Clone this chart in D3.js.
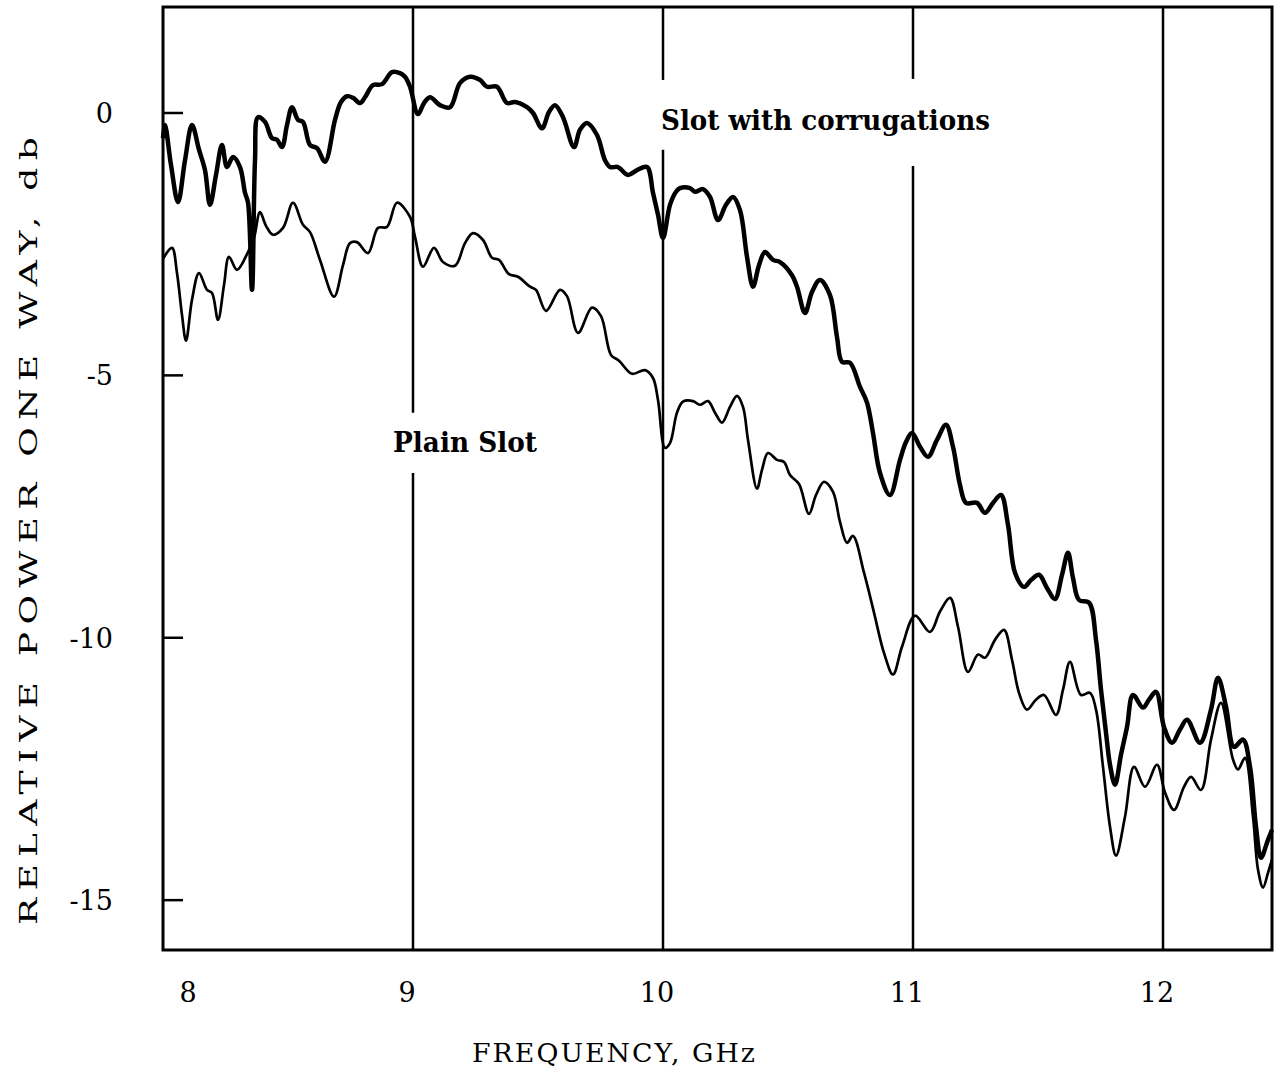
<!DOCTYPE html>
<html>
<head>
<meta charset="utf-8">
<script src="https://cdn.jsdelivr.net/npm/d3@7"></script>
<style>
  body { margin: 0; background: #fff; }
  text { font-family: "DejaVu Serif", "Liberation Serif", serif; fill: #000; }
</style>
</head>
<body>
<svg id="chart"></svg>
<script>
// frequency (GHz) and relative power (dB)
let corrFreq = [8.000,8.008,8.032,8.060,8.088,8.116,8.144,8.168,8.188,8.212,8.236,8.256,8.280,8.308,8.328,8.340,8.356,8.368,8.380,8.408,
  8.436,8.456,8.476,8.496,8.516,8.540,8.560,8.588,8.616,8.648,8.688,8.712,8.736,8.760,8.788,8.808,8.840,8.876,8.916,8.948,
  8.968,8.988,9.020,9.044,9.068,9.108,9.148,9.188,9.228,9.268,9.296,9.336,9.376,9.408,9.456,9.480,9.516,9.544,9.568,9.600,
  9.644,9.668,9.696,9.736,9.768,9.788,9.820,9.860,9.896,9.936,9.960,9.980,10.000,10.028,10.052,10.068,10.108,10.128,10.160,10.188,
  10.220,10.252,10.280,10.308,10.336,10.360,10.384,10.408,10.440,10.468,10.516,10.536,10.568,10.596,10.628,10.668,10.696,10.716,10.748,10.788,
  10.816,10.840,10.868,10.908,10.948,10.972,10.996,11.028,11.060,11.096,11.132,11.160,11.188,11.212,11.256,11.288,11.320,11.352,11.380,11.408,
  11.444,11.472,11.504,11.536,11.568,11.596,11.620,11.640,11.664,11.704,11.732,11.752,11.772,11.788,11.808,11.832,11.856,11.880,11.920,11.944,
  11.972,12.004,12.036,12.068,12.096,12.148,12.192,12.220,12.252,12.284,12.320,12.348,12.372,12.392,12.420,12.436];
let corrDb = [-0.48,-0.23,-0.99,-1.70,-0.90,-0.23,-0.70,-1.09,-1.75,-1.18,-0.61,-1.03,-0.84,-1.03,-1.52,-1.71,-3.37,-0.90,-0.08,-0.17,
  -0.48,-0.51,-0.65,-0.23,0.11,-0.13,-0.17,-0.61,-0.67,-0.93,-0.13,0.21,0.32,0.29,0.19,0.30,0.53,0.55,0.78,0.76,
  0.69,0.50,-0.02,0.19,0.30,0.15,0.11,0.57,0.69,0.63,0.50,0.50,0.19,0.21,0.11,0.00,-0.29,0.02,0.15,-0.08,
  -0.65,-0.32,-0.19,-0.42,-0.90,-1.03,-1.03,-1.18,-1.09,-1.03,-1.52,-1.94,-2.38,-1.75,-1.50,-1.43,-1.43,-1.50,-1.45,-1.60,
  -2.04,-1.75,-1.60,-1.85,-2.74,-3.31,-2.90,-2.65,-2.80,-2.84,-3.09,-3.31,-3.81,-3.41,-3.18,-3.47,-4.27,-4.74,-4.76,-5.22,
  -5.52,-6.10,-6.86,-7.28,-6.61,-6.27,-6.10,-6.36,-6.55,-6.23,-5.94,-6.36,-7.09,-7.43,-7.43,-7.62,-7.43,-7.28,-7.85,-8.76,
  -9.03,-8.90,-8.80,-9.05,-9.26,-8.80,-8.38,-8.86,-9.28,-9.33,-10.04,-10.99,-11.81,-12.42,-12.80,-12.23,-11.70,-11.09,-11.33,-11.18,
  -11.03,-11.70,-12.00,-11.75,-11.56,-12.00,-11.37,-10.76,-11.31,-12.08,-11.94,-12.46,-13.60,-14.19,-13.85,-13.66];

let plainFreq = [8.000,8.036,8.056,8.076,8.092,8.116,8.144,8.176,8.196,8.220,8.244,8.264,8.296,8.340,8.364,8.388,8.412,8.440,8.480,8.520,
  8.560,8.588,8.628,8.684,8.720,8.748,8.776,8.820,8.860,8.896,8.936,8.988,9.008,9.040,9.084,9.120,9.168,9.208,9.240,9.280,
  9.316,9.344,9.384,9.420,9.468,9.492,9.532,9.588,9.616,9.660,9.716,9.752,9.792,9.824,9.876,9.928,9.960,9.980,10.008,10.028,
  10.056,10.080,10.120,10.148,10.180,10.208,10.236,10.268,10.296,10.320,10.340,10.376,10.396,10.420,10.456,10.484,10.508,10.544,10.584,10.612,
  10.644,10.680,10.708,10.736,10.760,10.804,10.844,10.884,10.920,10.956,11.008,11.068,11.108,11.148,11.180,11.220,11.260,11.288,11.328,11.364,
  11.396,11.424,11.456,11.492,11.524,11.572,11.600,11.628,11.672,11.708,11.732,11.760,11.788,11.812,11.848,11.884,11.928,11.976,12.008,12.044,
  12.084,12.112,12.152,12.192,12.232,12.280,12.300,12.328,12.360,12.380,12.400,12.420,12.436];
let plainDb = [-2.78,-2.57,-3.05,-3.85,-4.34,-3.56,-3.05,-3.37,-3.43,-3.94,-3.28,-2.74,-2.99,-2.65,-2.38,-1.89,-2.15,-2.32,-2.19,-1.71,
  -2.13,-2.27,-2.80,-3.50,-2.90,-2.48,-2.46,-2.67,-2.19,-2.17,-1.71,-1.98,-2.36,-2.93,-2.57,-2.84,-2.91,-2.48,-2.29,-2.42,
  -2.76,-2.80,-3.07,-3.12,-3.31,-3.37,-3.77,-3.37,-3.49,-4.19,-3.71,-3.87,-4.61,-4.72,-4.97,-4.90,-5.05,-5.47,-6.38,-6.29,
  -5.71,-5.50,-5.49,-5.56,-5.49,-5.71,-5.90,-5.60,-5.39,-5.60,-6.23,-7.16,-6.80,-6.48,-6.61,-6.65,-6.90,-7.07,-7.64,-7.28,
  -7.03,-7.22,-7.79,-8.19,-8.06,-8.76,-9.52,-10.29,-10.70,-10.17,-9.58,-9.89,-9.50,-9.24,-9.79,-10.65,-10.32,-10.38,-10.04,-9.85,
  -10.42,-11.05,-11.37,-11.18,-11.09,-11.47,-10.99,-10.46,-11.09,-11.05,-11.37,-12.46,-13.60,-14.15,-13.41,-12.46,-12.84,-12.42,-12.95,-13.28,
  -12.84,-12.65,-12.90,-11.94,-11.24,-12.32,-12.51,-12.29,-13.41,-14.42,-14.76,-14.48,-14.23];

let xTicks = [8, 9, 10, 11, 12];
let yTicks = [0, -5, -10, -15];
let gridFreqs = [9, 10, 11, 12];
// vertical lines are broken where the labels sit (dB ranges)
let gridGaps = [[-5.71, -6.86], [0.63, -0.70], [0.65, -1.01], null];

let W = 1278, H = 1068;
let svg = d3.select("#chart").attr("width", W).attr("height", H);

let x = d3.scaleLinear().domain([8, 12.436]).range([163, 1272]);
let y = d3.scaleLinear().domain([-15.95, 2.02]).range([950, 7]);

// vertical grid lines
gridFreqs.forEach((f, i) => {
  let g = gridGaps[i];
  let segs = g ? [[2.02, g[0]], [g[1], -15.95]] : [[2.02, -15.95]];
  segs.forEach(s => {
    svg.append("line")
      .attr("x1", x(f)).attr("x2", x(f))
      .attr("y1", y(s[0])).attr("y2", y(s[1]))
      .attr("stroke", "#000").attr("stroke-width", 2.5);
  });
});

// frame
svg.append("rect")
  .attr("x", x(8)).attr("y", y(2.02))
  .attr("width", x(12.436) - x(8)).attr("height", y(-15.95) - y(2.02))
  .attr("fill", "none").attr("stroke", "#000").attr("stroke-width", 3);

// y ticks
svg.selectAll(".ytick").data(yTicks).enter().append("line")
  .attr("x1", x(8)).attr("x2", x(8) + 20)
  .attr("y1", d => y(d)).attr("y2", d => y(d))
  .attr("stroke", "#000").attr("stroke-width", 2.5);

svg.selectAll(".ylab").data(yTicks).enter().append("text")
  .attr("x", 113).attr("y", d => y(d) + 10)
  .attr("text-anchor", "end")
  .style("font-size", "27px")
  .text(d => d === 0 ? "0" : "-" + Math.abs(d));

svg.selectAll(".xlab").data(xTicks).enter().append("text")
  .attr("x", (d, i) => i === 0 ? x(d) + 25 : x(d) - 6)
  .attr("y", 1002)
  .attr("text-anchor", "middle")
  .style("font-size", "27px")
  .text(d => d);

// curves
let line = d3.line()
  .x(d => x(d[0])).y(d => y(d[1]))
  .curve(d3.curveCatmullRom.alpha(0.5));

svg.append("path")
  .datum(plainFreq.map((f, i) => [f, plainDb[i]]))
  .attr("d", line)
  .attr("fill", "none").attr("stroke", "#000").attr("stroke-width", 2.7)
  .attr("stroke-linejoin", "round");

svg.append("path")
  .datum(corrFreq.map((f, i) => [f, corrDb[i]]))
  .attr("d", line)
  .attr("fill", "none").attr("stroke", "#000").attr("stroke-width", 4.5)
  .attr("stroke-linejoin", "round");

// labels
svg.append("text")
  .attr("x", 661).attr("y", 130)
  .attr("textLength", 329).attr("lengthAdjust", "spacingAndGlyphs")
  .style("font-size", "27px").style("font-weight", "bold")
  .text("Slot with corrugations");

svg.append("text")
  .attr("x", 393).attr("y", 452)
  .attr("textLength", 144).attr("lengthAdjust", "spacingAndGlyphs")
  .style("font-size", "27px").style("font-weight", "bold")
  .text("Plain Slot");

svg.append("text")
  .attr("x", 472).attr("y", 1062)
  .attr("textLength", 285).attr("lengthAdjust", "spacingAndGlyphs")
  .style("font-size", "26px").style("letter-spacing", "2px")
  .text("FREQUENCY, GHz");

svg.append("text")
  .attr("transform", "translate(37,925) rotate(-90)")
  .attr("textLength", 795).attr("lengthAdjust", "spacingAndGlyphs")
  .style("font-size", "25px").style("letter-spacing", "5px")
  .text("RELATIVE POWER ONE WAY, db");
</script>
</body>
</html>
